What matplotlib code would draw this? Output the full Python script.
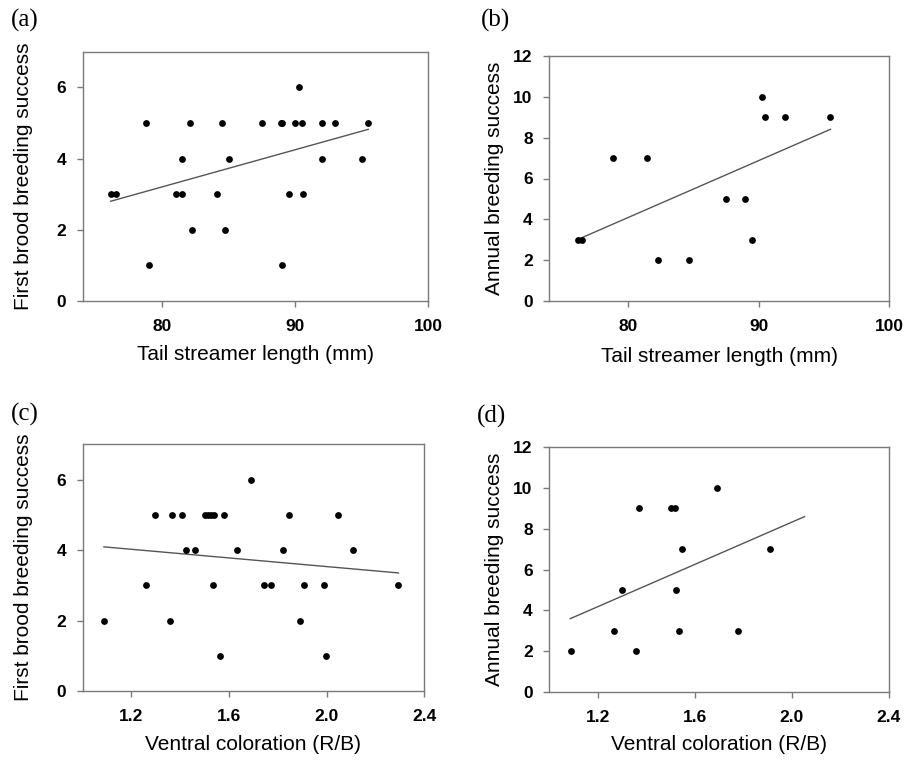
import matplotlib
matplotlib.use("Agg")
import matplotlib.pyplot as plt

# ---- data ----
a_x = [76.1, 76.5, 78.8, 79.0, 81.0, 81.5, 81.5, 82.1, 82.2, 84.1, 84.5, 84.7, 85.0,
       87.5, 88.9, 89.0, 89.0, 89.5, 90.0, 90.3, 90.5, 90.6, 92.0, 92.0, 93.0, 95.0, 95.5]
a_y = [3, 3, 5, 1, 3, 4, 3, 5, 2, 3, 5, 2, 4,
       5, 5, 5, 1, 3, 5, 6, 5, 3, 5, 4, 5, 4, 5]
a_fit_x = [76.1, 95.5]
a_fit_y = [2.8, 4.82]

b_x = [76.2, 76.5, 78.9, 81.5, 82.3, 84.7, 87.5, 89.0, 89.5, 90.3, 90.5, 92.0, 95.5]
b_y = [3, 3, 7, 7, 2, 2, 5, 5, 3, 10, 9, 9, 9]
b_fit_x = [76.2, 95.5]
b_fit_y = [3.02, 8.41]

c_x = [1.087, 1.261, 1.298, 1.356, 1.368, 1.408, 1.424, 1.462, 1.500, 1.512, 1.524,
       1.539, 1.532, 1.561, 1.579, 1.631, 1.688, 1.741, 1.770, 1.819, 1.844, 1.891,
       1.906, 1.987, 1.999, 2.047, 2.107, 2.294]
c_y = [2, 3, 5, 2, 5, 5, 4, 4, 5, 5, 5,
       5, 3, 1, 5, 4, 6, 3, 3, 4, 5, 2,
       3, 3, 1, 5, 4, 3]
c_fit_x = [1.087, 2.294]
c_fit_y = [4.09, 3.35]

d_x = [1.089, 1.265, 1.300, 1.357, 1.370, 1.502, 1.516, 1.524, 1.535, 1.545, 1.693, 1.776, 1.910]
d_y = [2, 3, 5, 2, 9, 9, 9, 5, 3, 7, 10, 3, 7]
d_fit_x = [1.086, 2.052]
d_fit_y = [3.59, 8.59]

tail_ticks = [80, 90, 100]
col_ticks = [1.2, 1.6, 2.0, 2.4]
col_ticklabels = ["1.2", "1.6", "2.0", "2.4"]
first_yticks = [0, 2, 4, 6]
annual_yticks = [0, 2, 4, 6, 8, 10, 12]

xlabel_tail = "Tail streamer length (mm)"
xlabel_col = "Ventral coloration (R/B)"
ylabel_first = "First brood breeding success"
ylabel_annual = "Annual breeding success"

W, H = 920, 760
fig = plt.figure(figsize=(W / 100, H / 100), dpi=100)
fig.patch.set_facecolor("white")

SANS = ["Liberation Sans", "DejaVu Sans"]
SERIF = ["Liberation Serif", "DejaVu Serif"]
SPINE = "#7a7a7a"


def rect(l, r, t, b):
    return [l / W, 1 - b / H, (r - l) / W, (b - t) / H]


def panel(r, xs, ys, fx, fy, xlim, xticks, xticklabels, ylim, yticks, xlabel, ylabel,
          ylab_x, xlab_y, tag, tagpos):
    l, rr, t, b = r
    ax = fig.add_axes(rect(*r))
    ax.scatter(xs, ys, s=24, color="black", zorder=3, linewidths=0)
    ax.plot(fx, fy, color="#555555", lw=1.0, zorder=2)
    ax.set_xlim(*xlim)
    ax.set_ylim(*ylim)
    ax.set_xticks(xticks)
    ax.set_xticklabels(xticklabels)
    ax.set_yticks(yticks)
    for s in ax.spines.values():
        s.set_color(SPINE)
        s.set_linewidth(1.0)
    ax.tick_params(axis="both", direction="out", length=4, width=1, color=SPINE)
    ax.tick_params(axis="x", pad=9)
    ax.tick_params(axis="y", pad=8)
    for lab in ax.get_xticklabels() + ax.get_yticklabels():
        lab.set_fontfamily(SANS)
        lab.set_fontweight("bold")
        lab.set_fontsize(12.5)
    ax.set_xlabel(xlabel, fontsize=15, family=SANS)
    ax.set_ylabel(ylabel, fontsize=15, family=SANS)
    ax.yaxis.set_label_coords((ylab_x - l) / (rr - l), 0.5)
    ax.xaxis.set_label_coords(0.5, -(xlab_y - b) / (b - t))
    ax.yaxis.label.set_verticalalignment("center")
    ax.xaxis.label.set_verticalalignment("center")
    fig.text(tagpos[0] / W, 1 - tagpos[1] / H, tag, fontsize=18, family=SERIF,
             ha="left", va="center")
    return ax


panel((82.7, 428, 51.7, 301), a_x, a_y, a_fit_x, a_fit_y, (74, 100), tail_ticks,
      [str(t) for t in tail_ticks], (0, 7), first_yticks, xlabel_tail, ylabel_first,
      24, 354, "(a)", (11, 20))
panel((549.3, 889.3, 56, 301), b_x, b_y, b_fit_x, b_fit_y, (74, 100), tail_ticks,
      [str(t) for t in tail_ticks], (0, 12), annual_yticks, xlabel_tail, ylabel_annual,
      495, 356, "(b)", (481, 20))
panel((82.7, 424.3, 444.3, 691), c_x, c_y, c_fit_x, c_fit_y, (1.0, 2.4), col_ticks,
      col_ticklabels, (0, 7), first_yticks, xlabel_col, ylabel_first,
      24, 744, "(c)", (11, 414))
panel((549.3, 889, 447, 692), d_x, d_y, d_fit_x, d_fit_y, (1.0, 2.4), col_ticks,
      col_ticklabels, (0, 12), annual_yticks, xlabel_col, ylabel_annual,
      495, 744, "(d)", (477, 416))

fig.savefig("out.png", dpi=100, facecolor="white")
